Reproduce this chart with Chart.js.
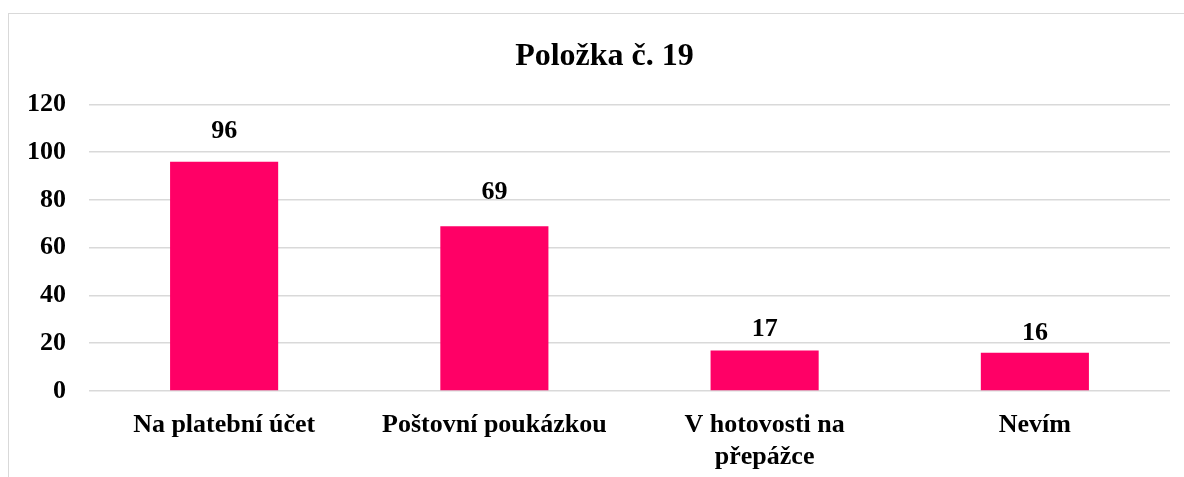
<!DOCTYPE html>
<html>
<head>
<meta charset="utf-8">
<script src="https://cdn.jsdelivr.net/npm/chart.js@4/dist/chart.umd.min.js"></script>
<style>
  html, body { margin: 0; padding: 0; background: #fff; }
  #wrap { position: relative; width: 1184px; height: 477px; overflow: hidden; }
  #frame { position: absolute; left: 8px; top: 13px; width: 1300px; height: 600px;
           border-left: 1px solid #d9d9d9; border-top: 1px solid #d9d9d9; }
  canvas { position: absolute; left: 0; top: 0; }
</style>
</head>
<body>
<div id="wrap">
  <div id="frame"></div>
  <canvas id="bar_chart" width="1184" height="477"></canvas>
</div>
<script>
const categories = [
  'Na platební účet',
  'Poštovní poukázkou',
  ['V hotovosti na', 'přepážce'],
  'Nevím'
];
const values = [96, 69, 17, 16];
const yTicks = [0, 20, 40, 60, 80, 100, 120];

const serif = 'Liberation Serif, Times New Roman, serif';

// values above the bars (gap above each bar, px, as placed in the original)
const labelGap = [24, 27, 14, 13];
const valueLabels = {
  id: 'valueLabels',
  afterDatasetsDraw(chart) {
    const ctx = chart.ctx;
    const meta = chart.getDatasetMeta(0);
    ctx.save();
    ctx.font = 'bold 26px ' + serif;
    ctx.fillStyle = '#000';
    ctx.textAlign = 'center';
    ctx.textBaseline = 'alphabetic';
    meta.data.forEach((bar, i) => {
      ctx.fillText(String(values[i]), bar.x, bar.y - labelGap[i]);
    });
    ctx.restore();
  }
};

// title sits a bit right of the canvas centre, as in the original
const titleShift = {
  id: 'titleShift',
  afterLayout(chart) {
    const t = chart.titleBlock;
    if (t) { t.left = 39; t.width = t.right - t.left; }
  }
};

let ctx = document.getElementById('bar_chart').getContext('2d');
let bar_chart = new Chart(ctx, {
  type: 'bar',
  data: {
    labels: categories,
    datasets: [{
      label: 'Položka č. 19',
      data: values,
      backgroundColor: '#FF0066',
      borderWidth: 0,
      categoryPercentage: 1,
      barPercentage: 0.4
    }]
  },
  options: {
    responsive: false,
    animation: false,
    layout: { padding: { top: 0, right: 14, bottom: 0, left: 0 } },
    plugins: {
      legend: { display: false },
      tooltip: { enabled: false },
      title: {
        display: true,
        text: 'Položka č. 19',
        color: '#000',
        font: { family: serif, size: 32, weight: 'bold', lineHeight: 1.2 },
        padding: { top: 38, bottom: 28 }
      }
    },
    scales: {
      x: {
        grid: { display: false, drawTicks: false },
        border: { display: false },
        ticks: {
          color: '#000',
          padding: 18,
          maxRotation: 0,
          autoSkip: false,
          font: { family: serif, size: 26, weight: 'bold', lineHeight: 1.25 }
        },
        afterFit(scale) { scale.height = 86; }
      },
      y: {
        min: 0,
        max: 120,
        afterBuildTicks(scale) { scale.ticks = yTicks.map(v => ({ value: v })); },
        grid: { color: '#d9d9d9', lineWidth: 1.5, drawTicks: false },
        border: { display: false },
        ticks: {
          color: '#000',
          padding: 23,
          font: { family: serif, size: 26, weight: 'bold' }
        },
        afterFit(scale) { scale.width = 89; }
      }
    }
  },
  plugins: [valueLabels, titleShift]
});
</script>
</body>
</html>
